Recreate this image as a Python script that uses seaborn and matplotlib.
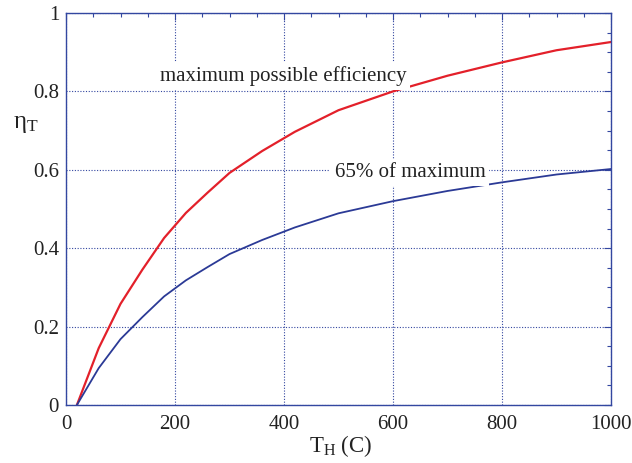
import numpy as np
import pandas as pd
import matplotlib
matplotlib.use("Agg")
import matplotlib.pyplot as plt
from matplotlib.ticker import MultipleLocator, FuncFormatter
import seaborn as sns

# Data
th_max = [20, 60, 100, 140, 180, 220, 260, 300, 360, 420, 500, 600, 700, 800, 900, 1000]
eta_max = [0.0, 0.145, 0.258, 0.345, 0.426, 0.490, 0.542, 0.592, 0.648, 0.697,
           0.752, 0.800, 0.840, 0.874, 0.905, 0.926]
th_65 = [20, 60, 100, 140, 180, 220, 260, 300, 360, 420, 500, 600, 700, 800, 900, 1000]
eta_65 = [0.0, 0.094, 0.168, 0.224, 0.277, 0.318, 0.352, 0.385, 0.421, 0.453,
          0.489, 0.520, 0.546, 0.568, 0.588, 0.602]

label_max = "maximum possible efficiency"
label_65 = "65% of maximum"

sns.set_theme(style="white")
plt.rcParams['font.family'] = ['Liberation Serif', 'DejaVu Serif']
plt.rcParams['mathtext.fontset'] = 'custom'
plt.rcParams['mathtext.rm'] = 'Liberation Serif'
plt.rcParams['mathtext.it'] = 'Liberation Serif'

axis_blue = '#3347a0'
red = '#e3202a'
blue = '#2b3a96'

fig = plt.figure(figsize=(6.32, 4.63), dpi=100)
ax = fig.add_axes([66/632, 1-405/463, 545/632, 392/463])

df_max = pd.DataFrame({'T': th_max, 'eta': eta_max})
df_65 = pd.DataFrame({'T': th_65, 'eta': eta_65})
sns.lineplot(data=df_max, x='T', y='eta', color=red, lw=1.6, ax=ax, zorder=2)
sns.lineplot(data=df_65, x='T', y='eta', color=blue, lw=1.3, ax=ax, zorder=2)

ax.set_xlim(0, 1000)
ax.set_ylim(0, 1)
ax.xaxis.set_major_locator(MultipleLocator(200))
ax.xaxis.set_minor_locator(MultipleLocator(50))
ax.yaxis.set_major_locator(MultipleLocator(0.2))
ax.yaxis.set_minor_locator(MultipleLocator(0.05))
ax.yaxis.set_major_formatter(FuncFormatter(lambda v, p: f"{v:g}"))
ax.tick_params(which='both', direction='in', top=True, right=True,
               color=axis_blue, labelsize=15, labelcolor='#222222')
ax.tick_params(axis='x', pad=7)
ax.tick_params(axis='y', pad=5)
ax.tick_params(which='major', length=5, width=0.8)
ax.tick_params(which='minor', length=3, width=0.8)
for s in ax.spines.values():
    s.set_color(axis_blue)
    s.set_linewidth(1.0)
ax.grid(True, which='major', color=axis_blue, linestyle=(0, (1, 1.5)), lw=0.8)
ax.set_axisbelow(True)

ax.set_xlabel(r"$\mathregular{T_H}$ (C)", fontsize=16.5, color='#222222')
ax.xaxis.set_label_coords(0.505, -0.072)
ax.set_ylabel(r"$\mathregular{\eta_T}$", fontsize=18, color='#222222', rotation=0)
ax.yaxis.set_label_coords(-0.073, 0.69)

ax.text(398, 0.84, label_max, fontsize=15, color='#222222', ha='center', va='center',
        zorder=3, bbox=dict(facecolor='white', edgecolor='none', pad=3))
ax.text(631, 0.593, label_65, fontsize=15, color='#222222', ha='center', va='center',
        zorder=3, bbox=dict(facecolor='white', edgecolor='none', pad=3))

fig.savefig('out.png', dpi=100)
